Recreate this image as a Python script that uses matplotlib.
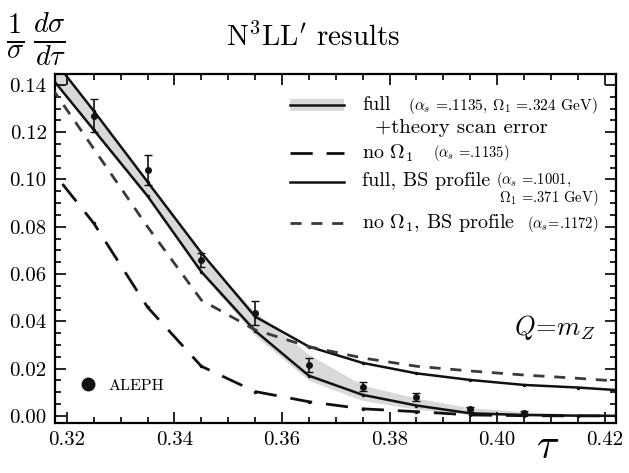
import matplotlib
matplotlib.use("Agg")
import matplotlib.pyplot as plt
from matplotlib.ticker import MultipleLocator, FormatStrFormatter
from matplotlib.lines import Line2D
from matplotlib.patches import Rectangle

plt.rcParams['font.family'] = ['cmr10', 'DejaVu Serif']
plt.rcParams['mathtext.fontset'] = 'cm'
plt.rcParams['axes.unicode_minus'] = False
plt.rcParams['axes.formatter.use_mathtext'] = True

# ---- data ----
tau = [0.315, 0.325, 0.335, 0.345, 0.355, 0.365, 0.375, 0.385, 0.395, 0.405, 0.415, 0.425]
full = [0.149, 0.121, 0.093, 0.061, 0.036, 0.017, 0.0089, 0.0044, 0.0011, 0.0004, 0.0001, 0.0]
band_hi = [0.157, 0.128, 0.099, 0.068, 0.044, 0.026, 0.013, 0.0075, 0.0035, 0.0018, 0.0008, 0.0005]
band_lo = [0.149, 0.120, 0.092, 0.060, 0.034, 0.015, 0.0065, 0.0028, 0.0006, 0.0, 0.0, 0.0]
no_omega = [0.110, 0.0815, 0.046, 0.021, 0.0103, 0.006, 0.003, 0.0018, 0.0004, 0.0001, 0.0, 0.0]
bs_full = [0.158, 0.129, 0.099, 0.069, 0.042, 0.0293, 0.0224, 0.018, 0.0152, 0.0131, 0.012, 0.0105]
bs_no_omega = [0.146, 0.113, 0.080, 0.049, 0.0364, 0.0293, 0.0245, 0.021, 0.019, 0.0173, 0.0159, 0.0143]

aleph_tau = [0.325, 0.335, 0.345, 0.355, 0.365, 0.375, 0.385, 0.395, 0.405]
aleph = [0.127, 0.104, 0.066, 0.0435, 0.0215, 0.0124, 0.0080, 0.0028, 0.0014]
aleph_err = [0.007, 0.0065, 0.003, 0.005, 0.003, 0.002, 0.0015, 0.001, 0.0008]

W, H = 629, 473
fig = plt.figure(figsize=(W / 100, H / 100), dpi=100)
ax = fig.add_axes([55 / W, 1 - 423 / H, (616 - 55) / W, (423 - 74) / H])

dark = '#111111'
band_col = '#d9d9d9'
ax.fill_between(tau, band_lo, band_hi, color=band_col, lw=0, zorder=1)
ax.plot(tau, full, color=dark, lw=1.8, marker='.', ms=3, zorder=3)
ax.plot(tau, bs_full, color=dark, lw=1.8, marker='.', ms=3, zorder=3)
ax.plot(tau, no_omega, color=dark, lw=2.0, dashes=(8, 5), marker='.', ms=3, zorder=3)
ax.plot(tau, bs_no_omega, color='#3a3a3a', lw=2.0, dashes=(4, 3.5), zorder=3)
ax.errorbar(aleph_tau, aleph, yerr=aleph_err, fmt='o', color=dark, ms=4,
            elinewidth=1.2, capsize=3, capthick=1.0, zorder=4)

ax.set_xlim(0.3178, 0.4221)
ax.set_ylim(-0.003, 0.1446)
ax.xaxis.set_major_locator(MultipleLocator(0.02))
ax.xaxis.set_minor_locator(MultipleLocator(0.005))
ax.yaxis.set_major_locator(MultipleLocator(0.02))
ax.yaxis.set_minor_locator(MultipleLocator(0.005))
ax.xaxis.set_major_formatter(FormatStrFormatter('%.2f'))
ax.yaxis.set_major_formatter(FormatStrFormatter('%.2f'))
ax.tick_params(which='both', direction='in', top=True, right=True, width=1.2)
ax.tick_params(which='major', length=8, labelsize=15, pad=6)
ax.tick_params(which='minor', length=4)
for s in ax.spines.values():
    s.set_linewidth(1.6)

def fx(x):
    return x / W

def fy(y):
    return 1 - y / H

# y label and title
fig.text(fx(6), fy(40), r'$\frac{1}{\sigma}\,\frac{d\sigma}{d\tau}$', fontsize=29, va='center', ha='left')
fig.text(fx(313), fy(37), r'N$^3$LL$^\prime$ results', fontsize=21, va='center', ha='center')
fig.text(fx(548), fy(447), r'$\tau$', fontsize=30, va='center', ha='center')
fig.text(fx(555), fy(328), r'$Q\!=\!m_Z$', fontsize=19, va='center', ha='center')

# ALEPH label
fig.add_artist(Line2D([fx(88)], [fy(384)], marker='o', ms=9, color=dark, transform=fig.transFigure))
fig.text(fx(108), fy(386), 'ALEPH', fontsize=11.5, va='center', ha='left')

# legend
hx0, hx1 = 290, 344
fig.add_artist(Rectangle((fx(hx0), fy(111)), fx(hx1 - hx0), 12 / H, color=band_col, lw=0, transform=fig.transFigure))
fig.add_artist(Line2D([fx(hx0), fx(hx1)], [fy(105), fy(105)], color=dark, lw=1.8, transform=fig.transFigure))
fig.add_artist(Line2D([fx(hx0), fx(hx1)], [fy(153), fy(153)], color=dark, lw=2.0, dashes=(8, 5), transform=fig.transFigure))
fig.add_artist(Line2D([fx(hx0), fx(hx1)], [fy(182), fy(182)], color=dark, lw=1.8, transform=fig.transFigure))
fig.add_artist(Line2D([fx(hx0), fx(hx1)], [fy(223), fy(223)], color='#3a3a3a', lw=2.0, dashes=(4, 3.5), transform=fig.transFigure))

big = 14.5
small = 10.5
fig.text(fx(362), fy(105), 'full', fontsize=big, va='center', ha='left')
fig.text(fx(598), fy(106), r'($\alpha_s$ =.1135, $\Omega_1$ =.324 GeV)', fontsize=small + 0.7, va='center', ha='right')
fig.text(fx(375), fy(128), '+theory scan error', fontsize=big + 0.5, va='center', ha='left')
fig.text(fx(362), fy(153), r'no $\Omega_1$', fontsize=big, va='center', ha='left')
fig.text(fx(433), fy(153), r'($\alpha_s$ =.1135)', fontsize=small, va='center', ha='left')
fig.text(fx(362), fy(181), 'full, BS profile', fontsize=big, va='center', ha='left')
fig.text(fx(496), fy(180), r'($\alpha_s$ =.1001,', fontsize=small, va='center', ha='left')
fig.text(fx(598), fy(198), r'$\Omega_1$ =.371 GeV)', fontsize=small, va='center', ha='right')
fig.text(fx(362), fy(223), r'no $\Omega_1$, BS profile', fontsize=big, va='center', ha='left')
fig.text(fx(598), fy(224), r'($\alpha_s$=.1172)', fontsize=small, va='center', ha='right')

fig.savefig('out.png', dpi=100)
